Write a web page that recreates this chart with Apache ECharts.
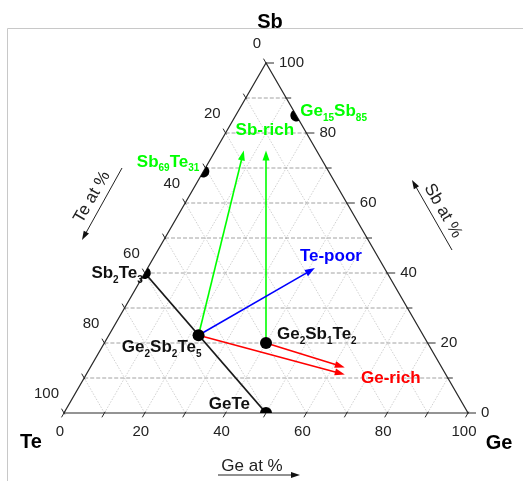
<!DOCTYPE html>
<html><head><meta charset="utf-8">
<script src="https://cdn.jsdelivr.net/npm/echarts@6/dist/echarts.min.js"></script>
<style>html,body{margin:0;padding:0;background:#fff}#c{width:523px;height:481px}</style>
</head><body><div id="c"></div>
<script>
// ---------- data ----------
const tickValues = [0, 20, 40, 60, 80, 100];
const tickLabels = ['0', '20', '40', '60', '80', '100'];
const minorTicks = [0, 10, 20, 30, 40, 50, 60, 70, 80, 90, 100];
const gridLevels = [10, 20, 30, 40, 50, 60, 70, 80, 90];
const compounds = ['Ge15Sb85', 'Sb69Te31', 'Sb2Te3', 'Ge2Sb2Te5', 'Ge2Sb1Te2', 'GeTe'];
const compGe = [15, 0, 0, 22.2, 40, 50];
const compSb = [85, 69, 40, 22.2, 20, 0];
const tieLine = ['Sb2Te3', 'GeTe'];
const arrowNames = ['Sb-rich', 'Sb-rich', 'Te-poor', 'Ge-rich', 'Ge-rich'];
const arrowFrom = ['Ge2Sb2Te5', 'Ge2Sb1Te2', 'Ge2Sb2Te5', 'Ge2Sb2Te5', 'Ge2Sb1Te2'];
const arrowToGe = [7, 12.5, 41.4, 64, 63];
const arrowToSb = [75, 75, 41.4, 11, 13];
const cornerNames = ['Sb', 'Te', 'Ge'];
const axisTitles = ['Te at %', 'Sb at %', 'Ge at %'];

// ---------- styles / layout ----------
const FONT = '"Liberation Sans", Arial, sans-serif';
const GREEN = '#00ff00', BLUE = '#0000ff', RED = '#ff0000';
const arrowColor = { 'Sb-rich': GREEN, 'Te-poor': BLUE, 'Ge-rich': RED };
const arrowLabelOffset = { 'Sb-rich': [10, -20], 'Te-poor': [16, -12], 'Ge-rich': [46, 7] };
const compLabelLayout = {
  'Ge15Sb85': { dx: 4, dy: -3.5, align: 'left', color: GREEN },
  'Sb69Te31': { dx: -4, dy: -9, align: 'right', color: GREEN },
  'Sb2Te3': { dx: -2, dy: 1, align: 'right', color: '#111' },
  'Ge2Sb2Te5': { dx: 3, dy: 13, align: 'right', color: '#111' },
  'Ge2Sb1Te2': { dx: 11, dy: -8, align: 'left', color: '#111' },
  'GeTe': { dx: -16, dy: -8, align: 'right', color: '#111' }
};

const S3 = Math.sqrt(3) / 2;
function T(ge, sb) { return [ge + sb / 2, sb * S3]; }
function compIdx(name) { return compounds.indexOf(name); }
function richFormula(name) {
  return name.replace(/([A-Za-z]+)|(\d+)/g, (m, a, d) => a ? '{m|' + a + '}' : '{s|' + d + '}');
}
function richStyles(color) {
  return {
    m: { fontSize: 17, fontWeight: 'bold', fontFamily: FONT, fill: color, lineHeight: 18, verticalAlign: 'top' },
    s: { fontSize: 10, fontWeight: 'bold', fontFamily: FONT, fill: color, lineHeight: 10, padding: [10, 0, 0, 0], verticalAlign: 'top' }
  };
}
function head(x1, y1, x2, y2, len, w) {
  const dx = x2 - x1, dy = y2 - y1, L = Math.hypot(dx, dy), ux = dx / L, uy = dy / L;
  const bx = x2 - ux * len, by = y2 - uy * len;
  return { pts: [[x2, y2], [bx - uy * w, by + ux * w], [bx + uy * w, by - ux * w]], bx: bx + ux * 1, by: by + uy * 1 };
}

const chart = echarts.init(document.getElementById('c'), null, { renderer: 'canvas' });

function base(name, data, renderItem, z) {
  return { type: 'custom', name, coordinateSystem: 'cartesian2d', data, renderItem, clip: false, silent: true, z, animation: false };
}

const series = [
  // grid lines
  base('grid', gridLevels.map((v, i) => [i, 0]), (params, api) => {
    const v = gridLevels[api.value(0)];
    const p = (g, s) => api.coord(T(g, s));
    const h1 = p(0, v), h2 = p(100 - v, v);
    const g1 = p(v, 0), g2 = p(v, 100 - v);
    const t1 = p(100 - v, 0), t2 = p(0, 100 - v);
    return { type: 'group', children: [
      { type: 'line', shape: { x1: g1[0], y1: g1[1], x2: g2[0], y2: g2[1] }, style: { stroke: '#c4c4c4', lineWidth: 0.8, lineDash: [1.5, 1.5] } },
      { type: 'line', shape: { x1: t1[0], y1: t1[1], x2: t2[0], y2: t2[1] }, style: { stroke: '#c4c4c4', lineWidth: 0.8, lineDash: [1.5, 1.5] } },
      { type: 'line', shape: { x1: h1[0], y1: h1[1], x2: h2[0], y2: h2[1] }, style: { stroke: '#8a8a8a', lineWidth: 0.8, lineDash: [4, 2] } }
    ] };
  }, 1),
  // triangle frame
  base('frame', [[0, 0]], (params, api) => {
    const p = (g, s) => api.coord(T(g, s));
    return { type: 'polygon', shape: { points: [p(0, 0), p(100, 0), p(0, 100)] }, style: { fill: 'none', stroke: '#2a2a2a', lineWidth: 1.2 } };
  }, 3),
  // ticks
  base('ticks', minorTicks.map((v, i) => [i, 0]), (params, api) => {
    const v = minorTicks[api.value(0)];
    const p = (g, s) => api.coord(T(g, s));
    const major = v % 20 === 0;
    const b = p(v, 0), r = p(100 - v, v), l = p(0, 100 - v);
    const lb = 5, lr = major ? 8 : 5;
    const st = { stroke: '#2a2a2a', lineWidth: 1 };
    return { type: 'group', children: [
      { type: 'line', shape: { x1: b[0] + 0.5 * 1.5, y1: b[1] - S3 * 1.5, x2: b[0] - 0.5 * lb, y2: b[1] + S3 * lb }, style: st },
      { type: 'line', shape: { x1: r[0] - 1, y1: r[1], x2: r[0] + lr, y2: r[1] }, style: st },
      { type: 'line', shape: { x1: l[0] + 0.5 * 1.5, y1: l[1] + S3 * 1.5, x2: l[0] - 0.5 * lb, y2: l[1] - S3 * lb }, style: st }
    ] };
  }, 3),
  // tick labels
  base('tickLabels', tickValues.map((v, i) => [i, 0]), (params, api) => {
    const i = api.value(0), v = tickValues[i], txt = tickLabels[i];
    const p = (g, s) => api.coord(T(g, s));
    const b = p(v, 0), r = p(100 - v, v), l = p(0, 100 - v);
    const st = (align) => ({ text: txt, fill: '#222', font: '15px ' + FONT, align, verticalAlign: 'middle' });
    return { type: 'group', children: [
      { type: 'text', x: b[0] - 4, y: b[1] + 19, style: st('center') },
      { type: 'text', x: r[0] + 13, y: r[1], style: st('left') },
      { type: 'text', x: l[0] - 5, y: l[1] - 19, style: st('right') }
    ] };
  }, 3),
  // tie line
  base('tie', [[0, 0]], (params, api) => {
    const a = compIdx(tieLine[0]), b = compIdx(tieLine[1]);
    const p1 = api.coord(T(compGe[a], compSb[a])), p2 = api.coord(T(compGe[b], compSb[b]));
    return { type: 'line', shape: { x1: p1[0], y1: p1[1], x2: p2[0], y2: p2[1] }, style: { stroke: '#1a1a1a', lineWidth: 1.8 } };
  }, 4),
  // arrows
  base('arrows', arrowNames.map((n, i) => [i, 0]), (params, api) => {
    const i = api.value(0), c = compIdx(arrowFrom[i]);
    const p1 = api.coord(T(compGe[c], compSb[c])), p2 = api.coord(T(arrowToGe[i], arrowToSb[i]));
    const col = arrowColor[arrowNames[i]];
    const h = head(p1[0], p1[1], p2[0], p2[1], 10, 3.5);
    return { type: 'group', children: [
      { type: 'line', shape: { x1: p1[0], y1: p1[1], x2: h.bx, y2: h.by }, style: { stroke: col, lineWidth: 1.6 } },
      { type: 'polygon', shape: { points: h.pts }, style: { fill: col } }
    ] };
  }, 5),
  // dots
  base('dots', compounds.map((n, i) => [i, 0]), (params, api) => {
    const i = api.value(0), ge = compGe[i], sb = compSb[i], te = 100 - ge - sb;
    const c = api.coord(T(ge, sb));
    let sa = 0, ea = Math.PI * 2;
    if (sb === 0) { sa = Math.PI; ea = 2 * Math.PI; }
    else if (ge === 0) { sa = -Math.PI / 3; ea = 2 * Math.PI / 3; }
    else if (te === 0) { sa = Math.PI / 3; ea = 4 * Math.PI / 3; }
    return { type: 'sector', shape: { cx: c[0], cy: c[1], r: 6, r0: 0, startAngle: sa, endAngle: ea, clockwise: true }, style: { fill: '#000' } };
  }, 6),
  // compound labels
  base('compLabels', compounds.map((n, i) => [i, 0]), (params, api) => {
    const i = api.value(0), name = compounds[i], L = compLabelLayout[name];
    const c = api.coord(T(compGe[i], compSb[i]));
    return { type: 'text', x: c[0] + L.dx, y: c[1] + L.dy, style: { text: richFormula(name), rich: richStyles(L.color), fill: L.color, align: L.align, verticalAlign: 'middle', font: 'bold 17px ' + FONT } };
  }, 7),
  // arrow labels
  base('arrowLabels', [...new Set(arrowNames)].map((n, i) => [i, 0]), (params, api) => {
    const name = [...new Set(arrowNames)][api.value(0)];
    let sx = 0, sy = 0, n = 0;
    arrowNames.forEach((a, k) => { if (a === name) { const q = api.coord(T(arrowToGe[k], arrowToSb[k])); sx += q[0]; sy += q[1]; n++; } });
    const off = arrowLabelOffset[name];
    return { type: 'text', x: sx / n + off[0], y: sy / n + off[1], style: { text: name, fill: arrowColor[name], font: 'bold 17px ' + FONT, align: 'center', verticalAlign: 'middle' } };
  }, 7)
];

function arrowGraphic(x1, y1, x2, y2) {
  const h = head(x1, y1, x2, y2, 9, 3);
  return [
    { type: 'line', shape: { x1, y1, x2: h.bx, y2: h.by }, style: { stroke: '#222', lineWidth: 1 } },
    { type: 'polygon', shape: { points: h.pts }, style: { fill: '#111' } }
  ];
}
const titleFont = 'bold 20px ' + FONT;
const graphic = [
  { type: 'rect', z: -1, shape: { x: 7.5, y: 28.5, width: 800, height: 800 }, style: { fill: 'none', stroke: '#c8c8c8', lineWidth: 1 } },
  { type: 'text', x: 270, y: 22, style: { text: cornerNames[0], font: titleFont, fill: '#000', align: 'center', verticalAlign: 'middle' } },
  { type: 'text', x: 31, y: 442, style: { text: cornerNames[1], font: titleFont, fill: '#000', align: 'center', verticalAlign: 'middle' } },
  { type: 'text', x: 499, y: 443, style: { text: cornerNames[2], font: titleFont, fill: '#000', align: 'center', verticalAlign: 'middle' } },
  { type: 'text', x: 92, y: 197, rotation: Math.PI / 3, style: { text: axisTitles[0], font: '17px ' + FONT, fill: '#222', align: 'center', verticalAlign: 'middle' } },
  ...arrowGraphic(122, 168, 82, 240),
  { type: 'text', x: 443, y: 211, rotation: -Math.PI / 3, style: { text: axisTitles[1], font: '17px ' + FONT, fill: '#222', align: 'center', verticalAlign: 'middle' } },
  ...arrowGraphic(452, 250, 412, 180),
  { type: 'text', x: 252, y: 466, style: { text: axisTitles[2], font: '17px ' + FONT, fill: '#222', align: 'center', verticalAlign: 'middle' } },
  ...arrowGraphic(218, 475, 300, 475)
];

chart.setOption({
  animation: false,
  backgroundColor: '#fff',
  grid: { left: 64, right: 55, top: 63, bottom: 68 },
  xAxis: { type: 'value', min: 0, max: 100, show: false },
  yAxis: { type: 'value', min: 0, max: 100 * S3, show: false },
  graphic,
  series
});
</script></body></html>
